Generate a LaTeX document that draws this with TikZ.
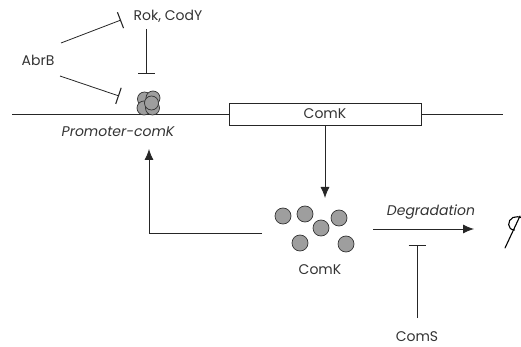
\documentclass[tikz,border=0pt]{standalone}
\usepackage{fontspec}
\setmainfont{Poppins}
\usetikzlibrary{arrows.meta}
\begin{document}
\begin{tikzpicture}[x=1pt,y=-1pt,
  lbl/.style={font=\fontsize{14}{16}\selectfont, text=black!80, inner sep=0pt},
  ln/.style={draw=black!85, line width=0.8pt},
  inh/.style={ln, -{Bar[width=17pt,line width=1.1pt]}},
  act/.style={ln, -{Latex[length=11pt,width=9pt]}},
  prot/.style={circle, draw=black!80, fill=black!38, line width=0.7pt, minimum size=16pt, inner sep=0pt}]
\useasboundingbox (0,0) rectangle (521,347);
% DNA line and gene box
\coordinate (L0) at (12,114);
\coordinate (L1) at (503,114);
\draw[ln] (L0) -- (L1);
\node[draw=black!85, fill=white, line width=0.8pt, minimum width=192pt, minimum height=22pt, inner sep=0pt, font=\fontsize{14}{16}\selectfont, text=black!80] (gene) at (325,114) {ComK};
% promoter cluster
\node[prot, minimum size=14pt] (p1) at (144.5,99) {};
\node[prot, minimum size=14pt] (p2) at (144,108) {};
\node[prot, minimum size=14pt] (p3) at (153,98) {};
\node[prot, minimum size=14pt] (p4) at (152.5,108) {};
\node[prot, minimum size=14pt] (p5) at (151.5,103) {};
\node[lbl, font=\fontsize{14}{16}\selectfont\itshape] (prom) at (118,132) {Promoter-comK};
% regulators
\node[lbl] (rok) at (168,16) {Rok, CodY};
\node[lbl] (abrb) at (38,60) {AbrB};
\coordinate (rokS) at (146,29);
\coordinate (rokE) at (146,74);
\draw[inh] (rokS) -- (rokE);
\coordinate (ab1S) at (61,43);
\coordinate (ab1E) at (121,20);
\draw[inh] (ab1S) -- (ab1E);
\coordinate (ab2S) at (60,76);
\coordinate (ab2E) at (119,96);
\draw[inh] (ab2S) -- (ab2E);
% translation arrow
\coordinate (tr) at (325,198);
\draw[act] (gene.south) -- (tr);
% ComK proteins
\node[prot] (c1) at (283,216) {};
\node[prot] (c2) at (305,214) {};
\node[prot] (c3) at (339,218) {};
\node[prot] (c4) at (321,228) {};
\node[prot] (c5) at (300,243) {};
\node[prot] (c6) at (346,244) {};
\node[lbl] (comk) at (320,270) {ComK};
% feedback arrow
\coordinate (fbS) at (262,233);
\coordinate (fbC) at (149,233);
\coordinate (fbE) at (149,149);
\draw[act] (fbS) -- (fbC) -- (fbE);
% degradation
\coordinate (dgS) at (373,229);
\coordinate (dgE) at (474,229);
\draw[act] (dgS) -- (dgE);
\node[lbl, font=\fontsize{14}{16}\selectfont\itshape] (deg) at (431,212) {Degradation};
% empty set symbol
\draw[black, line width=1.1pt, line cap=round] (505,248) -- (520,216);
\draw[black, line width=1.1pt, line cap=round] (514.5,230) .. controls (507,230) and (507,220) .. (513,217.5) .. controls (516,216.5) and (519,216.5) .. (521,217.5);
% ComS
\coordinate (csS) at (417,318);
\coordinate (csE) at (417,245);
\draw[inh] (csS) -- (csE);
\node[lbl] (coms) at (417,337) {ComS};
\end{tikzpicture}
\end{document}
